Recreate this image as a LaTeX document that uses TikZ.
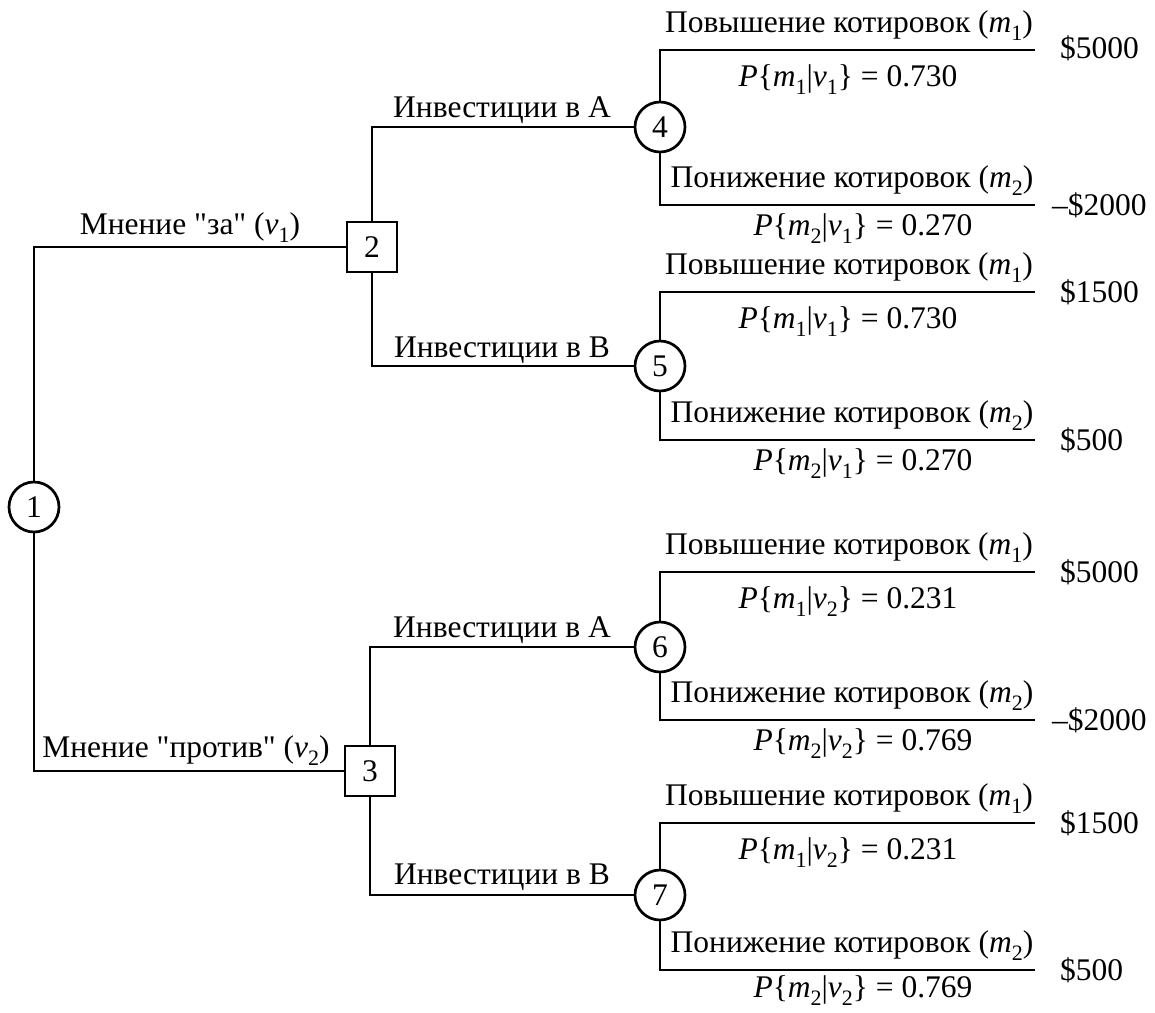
\documentclass[tikz,border=0pt]{standalone}
\usepackage{fontspec}
\setmainfont{Liberation Serif}
\newcommand\lsub[1]{\raisebox{-0.6ex}{\fontsize{22}{22}\selectfont #1}}
\newcommand\mi[1]{\textit{#1}}
\newcommand\prb[3]{\mi{P}\{\mi{m}\lsub{#1}|\mi{v}\lsub{#2}\}\ =\ #3}
\begin{document}
\begin{tikzpicture}[x=1pt,y=-1pt,
  every node/.style={font=\fontsize{31.5}{36}\selectfont},
  conn/.style={line width=2.7pt},
  chance/.style={circle,draw,line width=2.7pt,minimum size=50pt,inner sep=0pt},
  decision/.style={rectangle,draw,line width=2.7pt,minimum size=50pt,inner sep=0pt},
  txt/.style={inner sep=0pt,anchor=base},
  pay/.style={inner sep=0pt,anchor=base west}]
\useasboundingbox (0,0) rectangle (1155,1012);
% nodes
\node[chance] (n1) at (34,507) {1};
\node[decision] (n2) at (372,247) {2};
\node[decision] (n3) at (370,771) {3};
\node[chance] (n4) at (660,127) {4};
\node[chance] (n5) at (660,366) {5};
\node[chance] (n6) at (660,647) {6};
\node[chance] (n7) at (660,895) {7};
% leaf ends
\coordinate (e4a) at (1035,50);
\coordinate (e4b) at (1035,205);
\coordinate (e5a) at (1035,292);
\coordinate (e5b) at (1035,440);
\coordinate (e6a) at (1035,572);
\coordinate (e6b) at (1035,720);
\coordinate (e7a) at (1035,823);
\coordinate (e7b) at (1035,970);
% connectors
\draw[conn] (n1) |- (n2);
\draw[conn] (n1) |- (n3);
\draw[conn] (n2) |- (n4);
\draw[conn] (n2) |- (n5);
\draw[conn] (n3) |- (n6);
\draw[conn] (n3) |- (n7);
\draw[conn] (n4) |- (e4a);
\draw[conn] (n4) |- (e4b);
\draw[conn] (n5) |- (e5a);
\draw[conn] (n5) |- (e5b);
\draw[conn] (n6) |- (e6a);
\draw[conn] (n6) |- (e6b);
\draw[conn] (n7) |- (e7a);
\draw[conn] (n7) |- (e7b);
% first-level labels
\node[txt] (l12) at (190,234) {Мнение \textquotedbl за\textquotedbl\ (\mi{v}\lsub{1})};
\node[txt] (l13) at (186,757) {Мнение \textquotedbl против\textquotedbl\ (\mi{v}\lsub{2})};
\node[txt] (l24) at (502,117) {Инвестиции в А};
\node[txt] (l25) at (502,357) {Инвестиции в В};
\node[txt] (l36) at (502,637) {Инвестиции в А};
\node[txt] (l37) at (502,884) {Инвестиции в В};
% group 4
\node[txt] (t4a) at (849,32) {Повышение котировок (\mi{m}\lsub{1})};
\node[txt] (p4a) at (848,86) {\prb{1}{1}{0.730}};
\node[txt] (t4b) at (852,187) {Понижение котировок (\mi{m}\lsub{2})};
\node[txt] (p4b) at (863,235) {\prb{2}{1}{0.270}};
\node[pay] (v4a) at (1060,58) {\$5000};
\node[pay] (v4b) at (1052,215) {–\$2000};
% group 5
\node[txt] (t5a) at (849,274) {Повышение котировок (\mi{m}\lsub{1})};
\node[txt] (p5a) at (848,328) {\prb{1}{1}{0.730}};
\node[txt] (t5b) at (852,422) {Понижение котировок (\mi{m}\lsub{2})};
\node[txt] (p5b) at (863,470) {\prb{2}{1}{0.270}};
\node[pay] (v5a) at (1060,302) {\$1500};
\node[pay] (v5b) at (1060,450) {\$500};
% group 6
\node[txt] (t6a) at (849,554) {Повышение котировок (\mi{m}\lsub{1})};
\node[txt] (p6a) at (848,608) {\prb{1}{2}{0.231}};
\node[txt] (t6b) at (852,702) {Понижение котировок (\mi{m}\lsub{2})};
\node[txt] (p6b) at (863,750) {\prb{2}{2}{0.769}};
\node[pay] (v6a) at (1060,582) {\$5000};
\node[pay] (v6b) at (1052,730) {–\$2000};
% group 7
\node[txt] (t7a) at (849,805) {Повышение котировок (\mi{m}\lsub{1})};
\node[txt] (p7a) at (848,859) {\prb{1}{2}{0.231}};
\node[txt] (t7b) at (852,952) {Понижение котировок (\mi{m}\lsub{2})};
\node[txt] (p7b) at (863,997) {\prb{2}{2}{0.769}};
\node[pay] (v7a) at (1060,833) {\$1500};
\node[pay] (v7b) at (1060,980) {\$500};
\end{tikzpicture}
\end{document}
